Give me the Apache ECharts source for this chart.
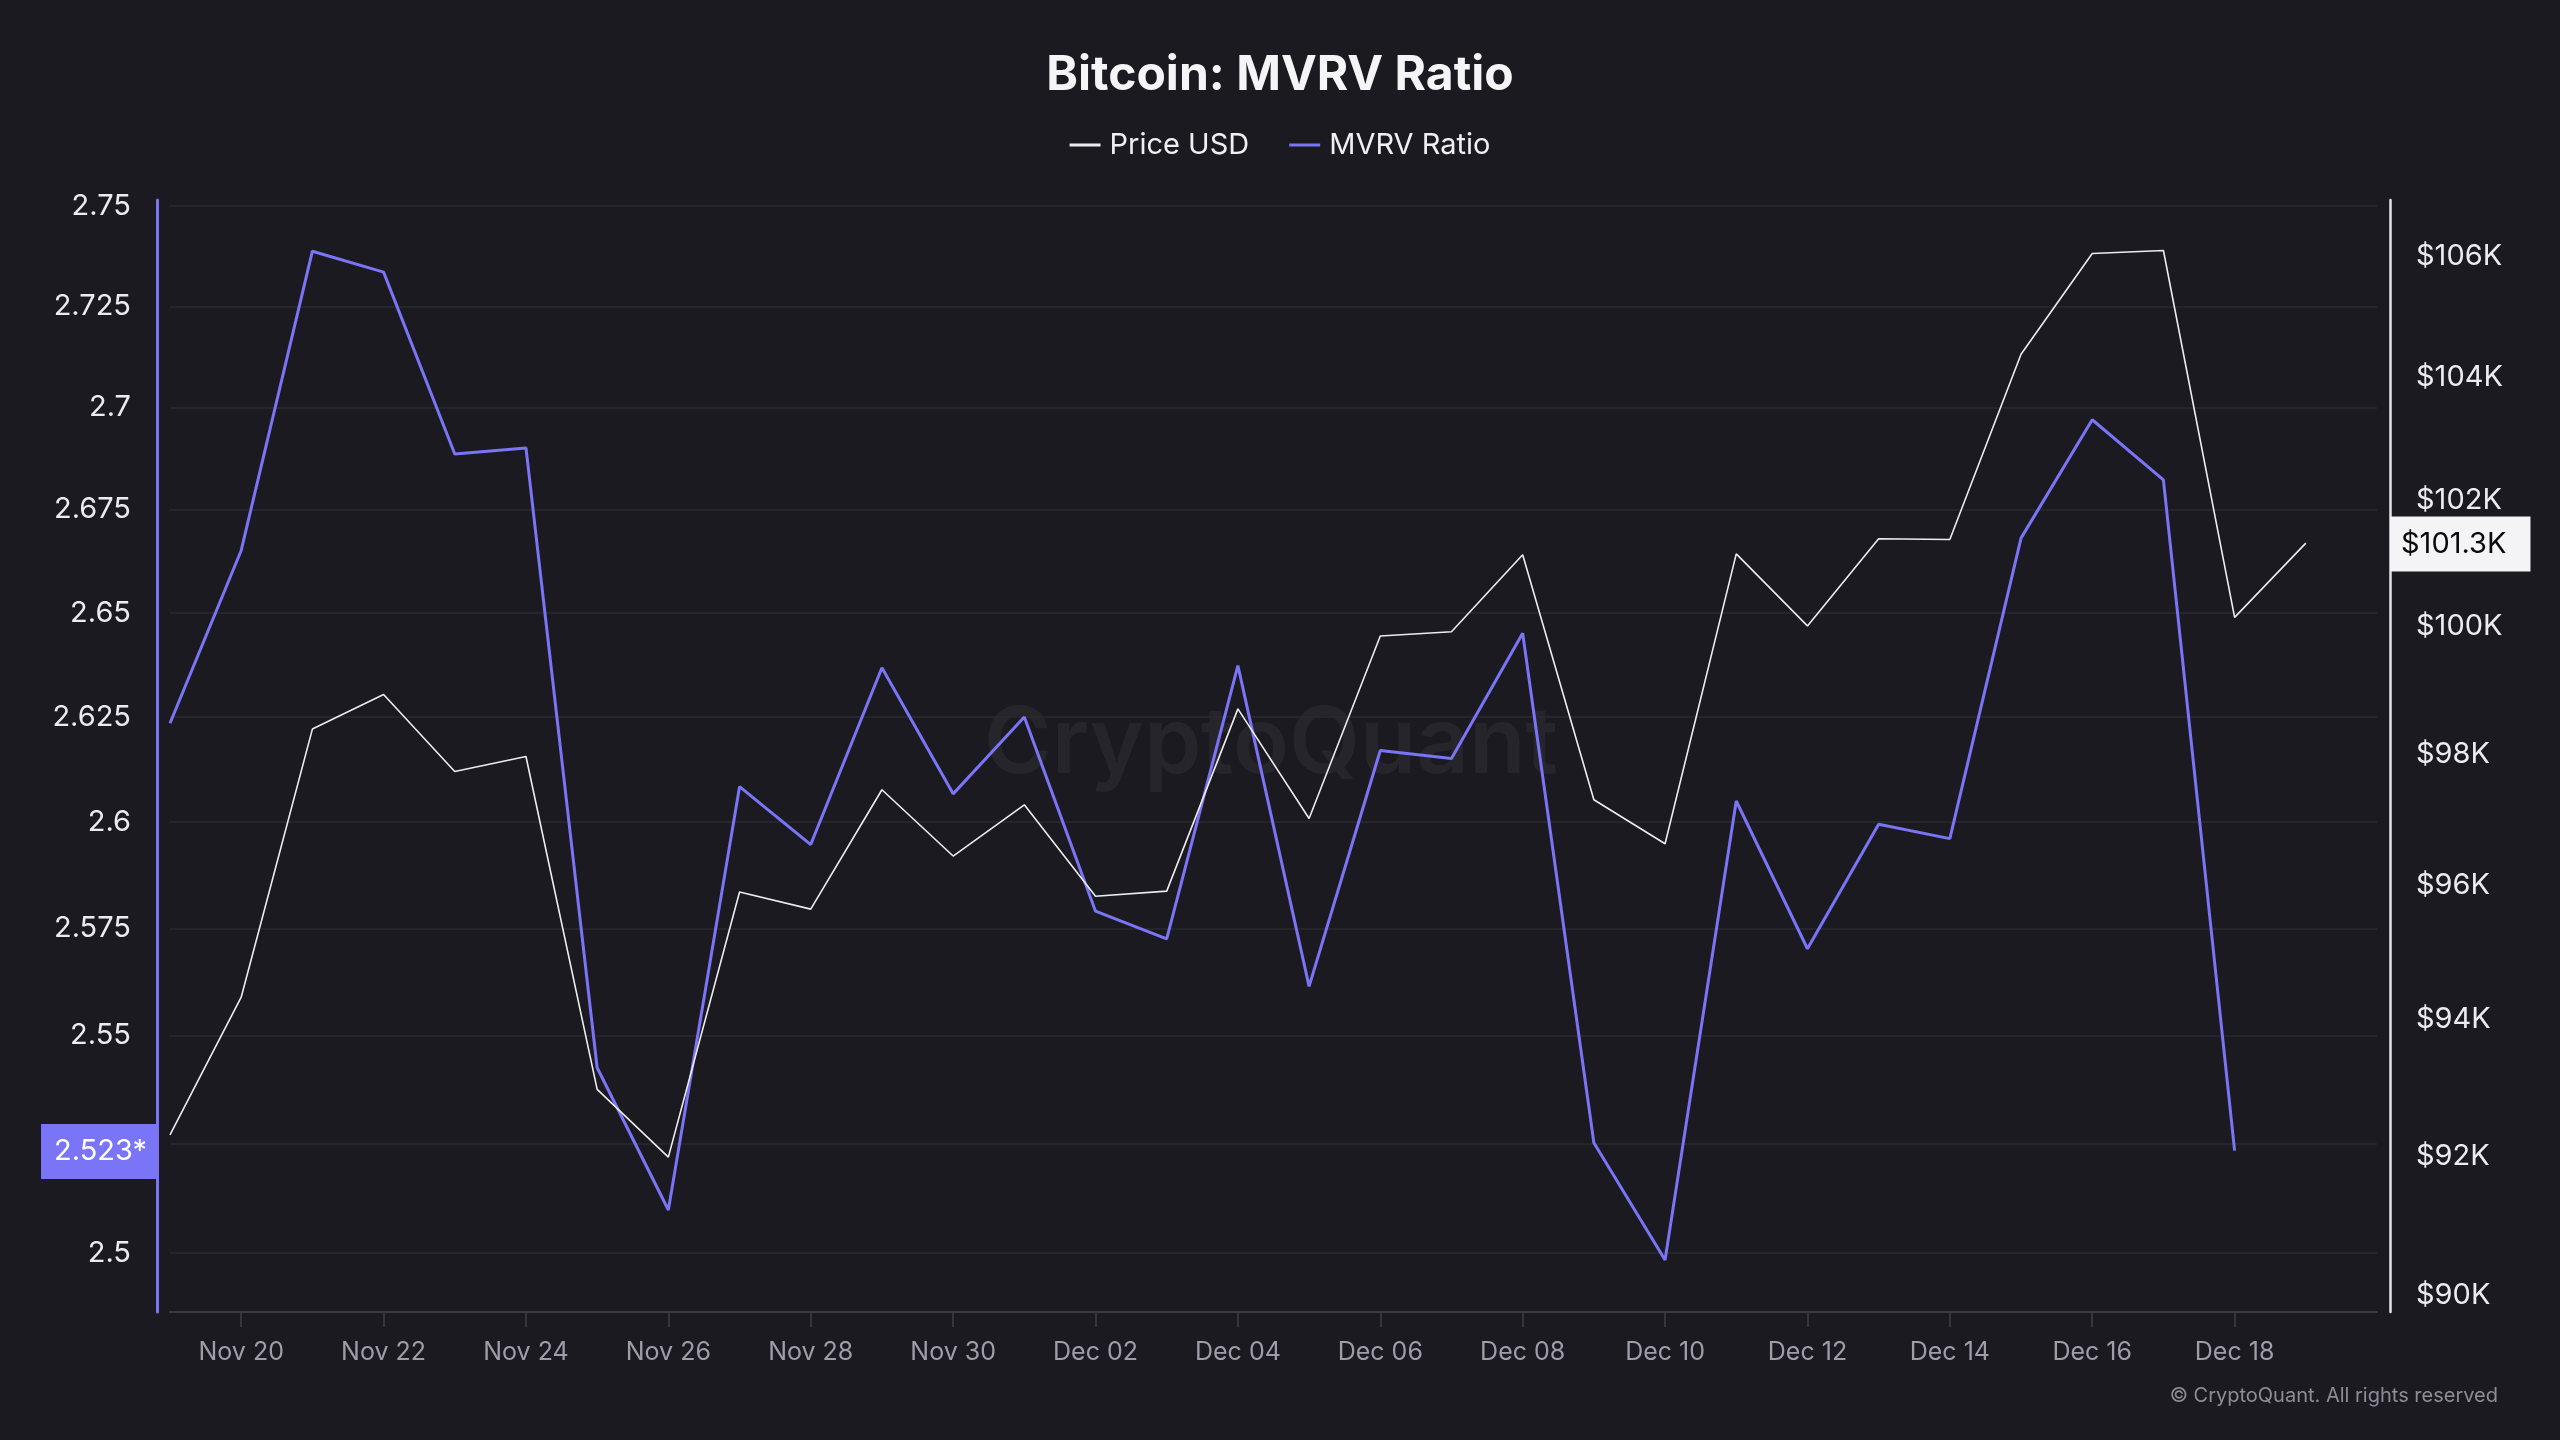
<!DOCTYPE html>
<html>
<head>
<meta charset="utf-8">
<script src="https://cdn.jsdelivr.net/npm/echarts@6/dist/echarts.min.js"></script>
<style>
html,body{margin:0;padding:0;background:#1b1a20;}
#chart{width:2560px;height:1440px;}
</style>
</head>
<body>
<div id="chart"></div>
<script>
// ---- data ----
const dates = ['2024-11-19','2024-11-20','2024-11-21','2024-11-22','2024-11-23','2024-11-24','2024-11-25','2024-11-26','2024-11-27','2024-11-28','2024-11-29','2024-11-30',
  '2024-12-01','2024-12-02','2024-12-03','2024-12-04','2024-12-05','2024-12-06','2024-12-07','2024-12-08','2024-12-09','2024-12-10','2024-12-11','2024-12-12',
  '2024-12-13','2024-12-14','2024-12-15','2024-12-16','2024-12-17','2024-12-18','2024-12-19'];
const priceUSD = [92307, 94329, 98396, 98933, 97740, 97972, 92969, 91984, 95905, 95646, 97461, 96449,
  97230, 95840, 95917, 98710, 97021, 99848, 99916, 101135, 97307, 96636, 101148, 100007,
  101389, 101378, 104378, 106047, 106096, 100142, 101320];
const mvrvRatio = [2.6235, 2.6651, 2.7387, 2.7335, 2.6886, 2.6901, 2.5425, 2.5098, 2.6084, 2.5947, 2.6368, 2.6067,
  2.6250, 2.5790, 2.5725, 2.6373, 2.5614, 2.6170, 2.6151, 2.6451, 2.5252, 2.4984, 2.6050, 2.5702,
  2.5995, 2.5961, 2.6681, 2.6970, 2.6823, 2.5234, null];
const mvrvTicks = [2.5, 2.525, 2.55, 2.575, 2.6, 2.625, 2.65, 2.675, 2.7, 2.725, 2.75];
const priceTicks = [90000, 92000, 94000, 96000, 98000, 100000, 102000, 104000, 106000];
const dateTicks = ['2024-11-20','2024-11-22','2024-11-24','2024-11-26','2024-11-28','2024-11-30','2024-12-02','2024-12-04',
  '2024-12-06','2024-12-08','2024-12-10','2024-12-12','2024-12-14','2024-12-16','2024-12-18'];
const xAxisEnd = '2024-12-20';
const MONTHS = ['Jan','Feb','Mar','Apr','May','Jun','Jul','Aug','Sep','Oct','Nov','Dec'];

function toTime(s){ const p = s.split('-').map(Number); return Date.UTC(p[0], p[1]-1, p[2]); }

const priceData = dates.map((d,i) => [toTime(d), priceUSD[i]]);
const mvrvData = dates.map((d,i) => [toTime(d), mvrvRatio[i]]);
const lastMvrv = mvrvRatio.filter(v => v !== null).slice(-1)[0];
const lastPrice = priceUSD[priceUSD.length-1];

const PURPLE = '#7a74f6';
const FONT = 'Inter';

const chart = echarts.init(document.getElementById('chart'), null, {renderer:'canvas'});
chart.setOption({
  backgroundColor: '#1b1a20',
  animation: false,
  title: {
    text: 'Bitcoin: MVRV Ratio', left: 'center', top: 47, padding: 0,
    textStyle: {fontFamily: FONT, fontWeight: 700, fontSize: 48, color: '#f5f5f7', lineHeight: 58}
  },
  legend: {
    data: ['Price USD', 'MVRV Ratio'], left: 'center', top: 128, padding: 0,
    icon: 'rect', itemWidth: 31, itemHeight: 3, itemGap: 40,
    textStyle: {fontFamily: FONT, fontSize: 29, color: '#f0f0f3', lineHeight: 34, padding: [0,0,0,4]}
  },
  grid: {left: 170, right: 183, top: 200, bottom: 128, containLabel: false},
  xAxis: {
    type: 'value', min: toTime(dates[0]), max: toTime(xAxisEnd),
    axisLine: {show: true, onZero: false, lineStyle: {color: '#3a3a44', width: 2}},
    axisTick: {show: true, length: 15, lineStyle: {color: '#3f3f49', width: 1.5}, customValues: dateTicks.map(toTime)},
    axisLabel: {
      customValues: dateTicks.map(toTime),
      formatter: function(v){ const d = new Date(v); return MONTHS[d.getUTCMonth()] + ' ' + String(d.getUTCDate()).padStart(2,'0'); },
      color: '#9e9da8', fontSize: 25, fontFamily: FONT, margin: 28
    },
    splitLine: {show: false}
  },
  yAxis: [{
    type: 'log', logBase: 10, min: 2.4866, max: 2.7515, position: 'left', offset: 13,
    axisLine: {show: true, lineStyle: {color: PURPLE, width: 3}},
    axisTick: {show: false, customValues: mvrvTicks},
    axisLabel: {
      customValues: mvrvTicks,
      formatter: function(v){ return String(parseFloat((+v).toFixed(3))); },
      color: '#ececf0', fontSize: 29, fontFamily: FONT, margin: 26
    },
    splitLine: {show: true, lineStyle: {color: '#2a2a31', width: 1.5}},
    axisPointer: {
      show: true, status: 'show', value: lastMvrv, snap: false, triggerTooltip: false,
      lineStyle: {opacity: 0}, handle: {show: false},
      label: {
        show: true, formatter: function(){ return lastMvrv.toFixed(3) + '*'; },
        backgroundColor: PURPLE, color: '#ffffff', fontFamily: FONT, fontSize: 29, lineHeight: 31,
        padding: [12, 10, 12, 13], margin: 0, borderRadius: 0
      }
    }
  }, {
    type: 'log', logBase: 10, min: 89768, max: 106943, position: 'right', offset: 13,
    axisLine: {show: true, lineStyle: {color: '#e4e4e8', width: 2.5}},
    axisTick: {show: false, customValues: priceTicks},
    axisLabel: {
      customValues: priceTicks,
      formatter: function(v){ return '$' + Math.round(v/1000) + 'K'; },
      color: '#ececf0', fontSize: 29, fontFamily: FONT, margin: 26, padding: [5, 0, 0, 0]
    },
    splitLine: {show: false},
    axisPointer: {
      show: true, status: 'show', value: lastPrice, snap: false, triggerTooltip: false,
      lineStyle: {opacity: 0}, handle: {show: false},
      label: {
        show: true, formatter: function(){ return '$' + (lastPrice/1000).toFixed(1) + 'K'; },
        backgroundColor: '#f4f4f6', color: '#0a0a0c', fontFamily: FONT, fontSize: 29, lineHeight: 31,
        padding: [12, 24, 12, 11], margin: 0, borderRadius: 0
      }
    }
  }],
  graphic: [
    {type: 'text', x: 1271, y: 745, z: 0, silent: true,
     style: {text: 'CryptoQuant', font: '600 92px Inter', fill: 'rgba(255,255,255,0.05)', align: 'center', verticalAlign: 'middle'}},
    {type: 'text', x: 2498, y: 1396, silent: true,
     style: {text: '© CryptoQuant. All rights reserved', font: '20px Inter', fill: '#8e8d97', align: 'right', verticalAlign: 'middle'}}
  ],
  series: [{
    name: 'Price USD', type: 'line', yAxisIndex: 1, data: priceData, symbol: 'none', showSymbol: false,
    lineStyle: {color: '#ececf0', width: 1.6}, itemStyle: {color: '#ececf0'}, z: 4
  }, {
    name: 'MVRV Ratio', type: 'line', yAxisIndex: 0, data: mvrvData, symbol: 'none', showSymbol: false,
    connectNulls: false,
    lineStyle: {color: PURPLE, width: 3}, itemStyle: {color: PURPLE}, z: 3
  }]
});
</script>
</body>
</html>
